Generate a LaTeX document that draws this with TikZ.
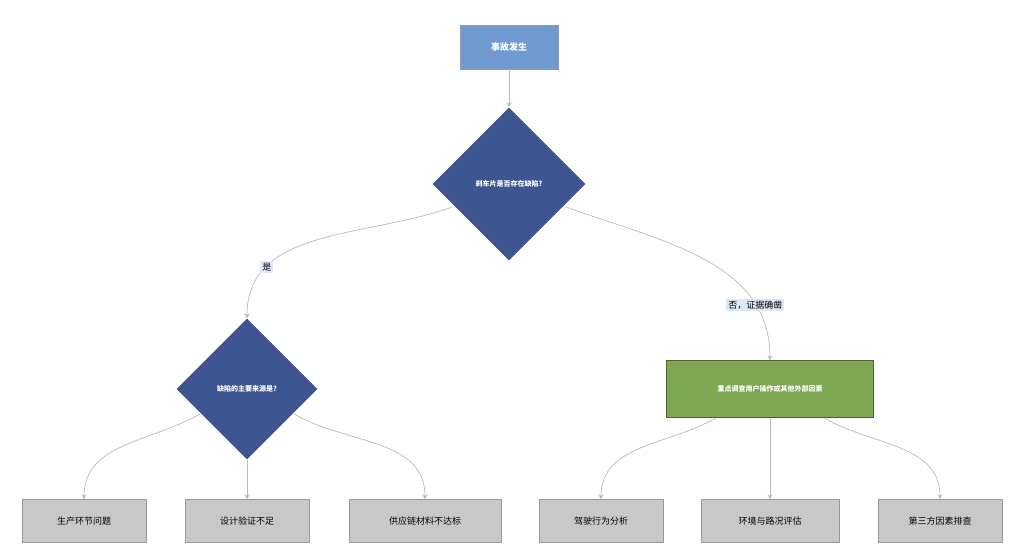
\documentclass[tikz,border=0pt]{standalone}
\usepackage{fontspec}
\setmainfont{Noto Sans CJK SC}
\usetikzlibrary{shapes.geometric,arrows.meta}
\definecolor{topblue}{HTML}{6F9BD1}
\definecolor{navy}{HTML}{3D5590}
\definecolor{leaf}{HTML}{7DA753}
\definecolor{boxgray}{HTML}{C8C8C8}
\definecolor{labbg}{HTML}{DCE8F8}
\tikzset{
  start/.style={draw=navy!60, fill=topblue, text=white, font=\bfseries\small, minimum width=98pt, minimum height=44pt},
  choice/.style={diamond, fill=navy, text=white, font=\bfseries\scriptsize, aspect=1, inner sep=0pt},
  action/.style={draw=leaf!60!black, fill=leaf, text=white, font=\bfseries\scriptsize, minimum width=207pt, minimum height=57pt, text width=190pt, align=center},
  leafbox/.style={draw=gray!80, fill=boxgray, font=\small, minimum height=43pt},
  link/.style={draw=gray!55, line width=0.7pt, -{Stealth[length=5pt,width=5pt]}},
  lab/.style={fill=labbg, font=\small, inner sep=2pt}
}
\begin{document}
\begin{tikzpicture}[x=1pt,y=-1pt]
  \useasboundingbox (0,0) rectangle (1024,557);
  \node[start] (accident) at (509,47) {事故发生};
  \node[choice, minimum size=153pt] (defect) at (509,184) {刹车片是否存在缺陷?};
  \node[choice, minimum size=141pt] (source) at (247,389) {缺陷的主要来源是?};
  \node[action] (external) at (770,389) {重点调查用户操作或其他外部因素};
  \node[leafbox, minimum width=124pt] (prod) at (84,521) {生产环节问题};
  \node[leafbox, minimum width=124pt] (design) at (247,521) {设计验证不足};
  \node[leafbox, minimum width=152pt] (supply) at (425,521) {供应链材料不达标};
  \node[leafbox, minimum width=124pt] (drive) at (601,521) {驾驶行为分析};
  \node[leafbox, minimum width=138pt] (road) at (770,521) {环境与路况评估};
  \node[leafbox, minimum width=124pt] (third) at (940,521) {第三方因素排查};
  \coordinate (dl) at (452,207);
  \coordinate (dr) at (566,207);
  \coordinate (sl) at (200,414);
  \coordinate (sr) at (294,414);
  \coordinate (el) at (716,418);
  \coordinate (er) at (824,418);
  \draw[link] (accident) -- (defect);
  \draw[link] (dl) to[out=-160,in=90] node[lab, pos=0.75] {是} (source.north);
  \draw[link] (dr) to[out=-20,in=90] node[lab, pos=0.78] {否，证据确凿} (external.north);
  \draw[link] (sl) to[out=-150,in=90] (prod.north);
  \draw[link] (source.south) -- (design.north);
  \draw[link] (sr) to[out=-30,in=90] (supply.north);
  \draw[link] (el) to[out=-150,in=90] (drive.north);
  \draw[link] (external.south) -- (road.north);
  \draw[link] (er) to[out=-30,in=90] (third.north);
\end{tikzpicture}
\end{document}
